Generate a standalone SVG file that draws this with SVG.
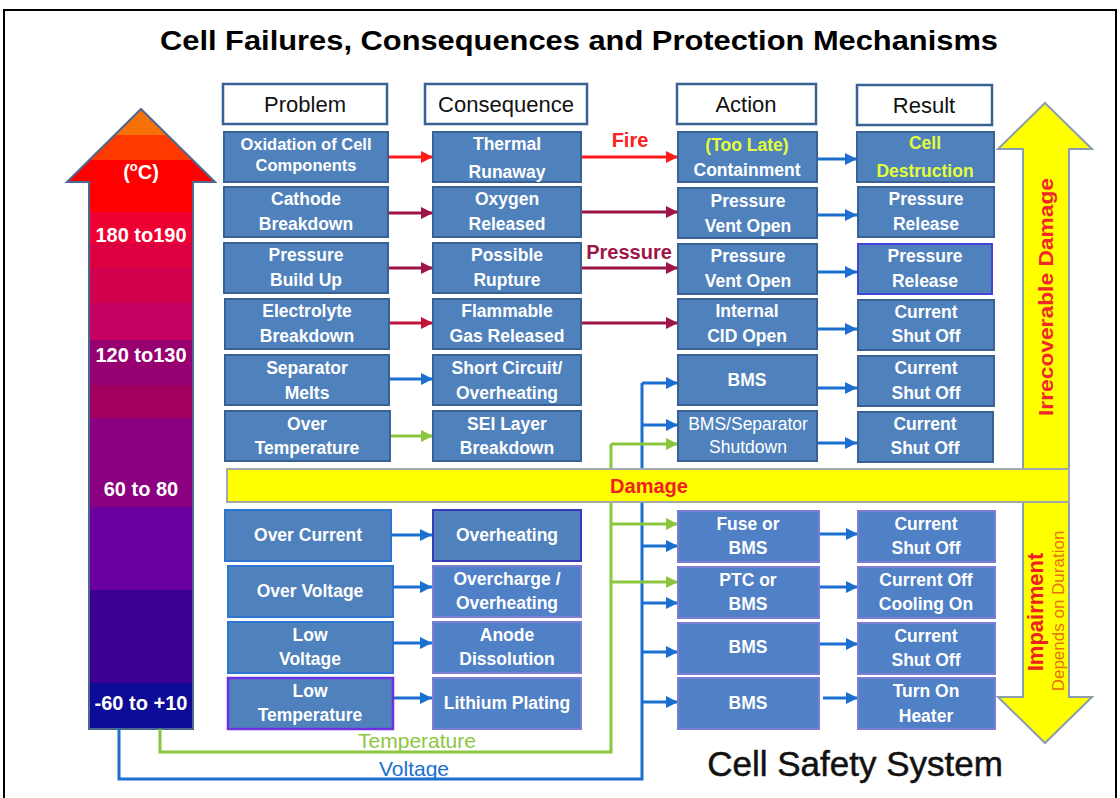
<svg xmlns="http://www.w3.org/2000/svg" width="1120" height="798" viewBox="0 0 1120 798">
<style>
text{font-family:"Liberation Sans",Arial,sans-serif}
.box{fill:#4F81BD;stroke:#3A6193;stroke-width:2}
.boxL{fill:#5080C6;stroke:#7C7ED2;stroke-width:2}
.hdr{fill:#fff;stroke:#3A6193;stroke-width:2.5}
.ht{font-size:22px;fill:#111;text-anchor:middle}
.t{font-size:17.5px;font-weight:bold;fill:#fff;text-anchor:middle}
.tr{font-size:17.5px;fill:#fff;text-anchor:middle}
.y{fill:#E4FF3A}
.c{fill:none;stroke-width:3}
.red{stroke:#FF1A1A}
.mar{stroke:#9E1447}
.crim{stroke:#C0143C}
.blu{stroke:#1A6FD0}
.grn{stroke:#8CC63F}
.lt{font-size:20px;fill:#fff;font-weight:bold;text-anchor:middle}
</style>
<defs>
<linearGradient id="temp" gradientUnits="userSpaceOnUse" x1="0" y1="109" x2="0" y2="729">
<stop offset="0" stop-color="#F87008"/><stop offset="0.042" stop-color="#F87008"/>
<stop offset="0.042" stop-color="#FF3A00"/><stop offset="0.082" stop-color="#FF3A00"/>
<stop offset="0.082" stop-color="#FF0000"/><stop offset="0.166" stop-color="#FF0000"/>
<stop offset="0.166" stop-color="#EE0033"/><stop offset="0.216" stop-color="#EE0033"/>
<stop offset="0.216" stop-color="#DC0040"/><stop offset="0.256" stop-color="#DC0040"/>
<stop offset="0.256" stop-color="#D0004C"/><stop offset="0.313" stop-color="#D0004C"/>
<stop offset="0.313" stop-color="#C40062"/><stop offset="0.373" stop-color="#C40062"/>
<stop offset="0.373" stop-color="#960070"/><stop offset="0.445" stop-color="#960070"/>
<stop offset="0.445" stop-color="#A20060"/><stop offset="0.498" stop-color="#A20060"/>
<stop offset="0.498" stop-color="#8A0080"/><stop offset="0.642" stop-color="#8A0080"/>
<stop offset="0.642" stop-color="#6A00A0"/><stop offset="0.776" stop-color="#6A00A0"/>
<stop offset="0.776" stop-color="#3A0090"/><stop offset="0.926" stop-color="#3A0090"/>
<stop offset="0.926" stop-color="#0C0C96"/><stop offset="1" stop-color="#0C0C96"/>
</linearGradient>
<marker id="aRed" viewBox="0 0 12 12" refX="12" refY="6" markerWidth="12" markerHeight="12" markerUnits="userSpaceOnUse" orient="auto"><path d="M0,0 L12,6 L0,12 z" fill="#FF1A1A"/></marker>
<marker id="aMar" viewBox="0 0 12 12" refX="12" refY="6" markerWidth="12" markerHeight="12" markerUnits="userSpaceOnUse" orient="auto"><path d="M0,0 L12,6 L0,12 z" fill="#9E1447"/></marker>
<marker id="aCrim" viewBox="0 0 12 12" refX="12" refY="6" markerWidth="12" markerHeight="12" markerUnits="userSpaceOnUse" orient="auto"><path d="M0,0 L12,6 L0,12 z" fill="#C0143C"/></marker>
<marker id="aBlu" viewBox="0 0 12 12" refX="12" refY="6" markerWidth="12" markerHeight="12" markerUnits="userSpaceOnUse" orient="auto"><path d="M0,0 L12,6 L0,12 z" fill="#1A6FD0"/></marker>
<marker id="aGrn" viewBox="0 0 12 12" refX="12" refY="6" markerWidth="12" markerHeight="12" markerUnits="userSpaceOnUse" orient="auto"><path d="M0,0 L12,6 L0,12 z" fill="#8CC63F"/></marker>
</defs>
<rect width="1120" height="798" fill="#fff"/>
<path d="M4,800 V10 H1116 V800" fill="none" stroke="#000" stroke-width="2"/>
<text x="579" y="50" font-size="27" font-weight="bold" text-anchor="middle" textLength="838" lengthAdjust="spacingAndGlyphs" fill="#000">Cell Failures, Consequences and Protection Mechanisms</text>

<!-- temperature arrow -->
<g id="temp-arrow">
<path d="M141,109 L215,182 L193,182 L193,729 L89,729 L89,182 L67,182 Z" fill="url(#temp)" stroke="#4A6890" stroke-width="2"/>
<text class="lt" x="141" y="179">(<tspan font-size="13" dy="-8">o</tspan><tspan dy="8">C)</tspan></text>
<text class="lt" x="141" y="242">180 to190</text>
<text class="lt" x="141" y="362">120 to130</text>
<text class="lt" x="141" y="496">60 to 80</text>
<text class="lt" x="141" y="710">-60 to +10</text>
</g>

<!-- connectors -->
<g id="connectors">
<path class="c red" d="M389,157 H433" marker-end="url(#aRed)"/>
<path class="c red" d="M581,157 H678" marker-end="url(#aRed)"/>
<path class="c mar" d="M389,213 H433" marker-end="url(#aMar)"/>
<path class="c mar" d="M581,212 H678" marker-end="url(#aMar)"/>
<path class="c mar" d="M389,268 H433" marker-end="url(#aMar)"/>
<path class="c mar" d="M581,268 H678" marker-end="url(#aMar)"/>
<path class="c crim" d="M389,323 H433" marker-end="url(#aCrim)"/>
<path class="c mar" d="M581,323 H678" marker-end="url(#aMar)"/>
<path class="c blu" d="M389,379 H433" marker-end="url(#aBlu)"/>
<path class="c grn" d="M390,436 H433" marker-end="url(#aGrn)"/>
<path class="c blu" d="M391,535 H432" marker-end="url(#aBlu)"/>
<path class="c blu" d="M393,587 H432" marker-end="url(#aBlu)"/>
<path class="c blu" d="M393,643 H432" marker-end="url(#aBlu)"/>
<path class="c blu" d="M393,698 H432" marker-end="url(#aBlu)"/>
<path class="c blu" d="M817,159 H857" marker-end="url(#aBlu)"/>
<path class="c blu" d="M817,215 H857" marker-end="url(#aBlu)"/>
<path class="c blu" d="M817,272 H857" marker-end="url(#aBlu)"/>
<path class="c blu" d="M817,329 H857" marker-end="url(#aBlu)"/>
<path class="c blu" d="M817,388 H857" marker-end="url(#aBlu)"/>
<path class="c blu" d="M817,443 H857" marker-end="url(#aBlu)"/>
<path class="c blu" d="M819,534 H858" marker-end="url(#aBlu)"/>
<path class="c blu" d="M819,587 H858" marker-end="url(#aBlu)"/>
<path class="c blu" d="M819,644 H858" marker-end="url(#aBlu)"/>
<path class="c blu" d="M823,698 H858" marker-end="url(#aBlu)"/>
<path class="c blu" d="M119,729 V779 H642 V383"/>
<path class="c grn" d="M160,729 V752 H611 V444"/>
<path class="c blu" d="M642,383 H678" marker-end="url(#aBlu)"/>
<path class="c blu" d="M642,425 H678" marker-end="url(#aBlu)"/>
<path class="c blu" d="M642,546 H678" marker-end="url(#aBlu)"/>
<path class="c blu" d="M642,603 H678" marker-end="url(#aBlu)"/>
<path class="c blu" d="M642,652 H678" marker-end="url(#aBlu)"/>
<path class="c blu" d="M642,702 H678" marker-end="url(#aBlu)"/>
<path class="c grn" d="M611,444 H678" marker-end="url(#aGrn)"/>
<path class="c grn" d="M611,524 H678" marker-end="url(#aGrn)"/>
<path class="c grn" d="M611,582 H678" marker-end="url(#aGrn)"/>
<text x="630" y="147" font-size="20" font-weight="bold" fill="#FF2020" text-anchor="middle">Fire</text>
<text x="629" y="259" font-size="20" font-weight="bold" fill="#9E1447" text-anchor="middle">Pressure</text>
<text x="417" y="748" font-size="21" fill="#8CC63F" text-anchor="middle">Temperature</text>
<text x="414" y="776" font-size="21" fill="#1A6FD0" text-anchor="middle">Voltage</text>
</g>

<!-- damage bar and yellow arrows -->
<g id="damage">
<path d="M1045,103 L1092,149 L1069,149 L1069,469 L1023,469 L1023,149 L998,149 Z" fill="#FFFF00" stroke="#8C9CB0" stroke-width="2"/>
<path d="M1023,502 L1069,502 L1069,697 L1092,697 L1045,743 L998,697 L1023,697 Z" fill="#FFFF00" stroke="#8C9CB0" stroke-width="2"/>
<rect x="227" y="469" width="842" height="33" fill="#FFFF00" stroke="#A0A8B0" stroke-width="2"/>
<text x="649" y="493" font-size="20" font-weight="bold" fill="#F02020" text-anchor="middle">Damage</text>
<text transform="translate(1053,297) rotate(-90)" font-size="21" font-weight="bold" fill="#F02828" text-anchor="middle" textLength="238" lengthAdjust="spacingAndGlyphs">Irrecoverable Damage</text>
<text transform="translate(1043,612) rotate(-90)" font-size="22" font-weight="bold" fill="#F02020" text-anchor="middle">Impairment</text>
<text transform="translate(1064,611) rotate(-90)" font-size="17" fill="#E87010" text-anchor="middle">Depends on Duration</text>
</g>

<!-- headers -->
<g id="h-problem"><rect class="hdr" x="223" y="84" width="164" height="40"/><text class="ht" x="305" y="112">Problem</text></g>
<g id="h-consequence"><rect class="hdr" x="425" y="84" width="162" height="40"/><text class="ht" x="506" y="112">Consequence</text></g>
<g id="h-action"><rect class="hdr" x="677" y="84" width="139" height="40"/><text class="ht" x="746" y="112">Action</text></g>
<g id="h-result"><rect class="hdr" x="857" y="85" width="135" height="40"/><text class="ht" x="924" y="113">Result</text></g>

<!-- row 1 -->
<g id="p1"><rect class="box" x="224" y="132" width="164" height="50"/><text class="t" x="306" y="150" style="font-size:16.5px">Oxidation of Cell</text><text class="t" x="306" y="171" style="font-size:16.5px">Components</text></g>
<g id="c1"><rect class="box" x="433" y="132" width="148" height="50"/><text class="t" x="507" y="150">Thermal</text><text class="t" x="507" y="178">Runaway</text></g>
<g id="a1"><rect class="box" x="678" y="132" width="139" height="50"/><text class="t y" x="747" y="151">(Too Late)</text><text class="t" x="747" y="176">Containment</text></g>
<g id="r1"><rect class="box" x="857" y="132" width="137" height="50"/><text class="t y" x="925" y="149">Cell</text><text class="t y" x="925" y="177">Destruction</text></g>
<!-- row 2 -->
<g id="p2"><rect class="box" x="224" y="187" width="164" height="50"/><text class="t" x="306" y="205">Cathode</text><text class="t" x="306" y="230">Breakdown</text></g>
<g id="c2"><rect class="box" x="433" y="187" width="148" height="50"/><text class="t" x="507" y="205">Oxygen</text><text class="t" x="507" y="230">Released</text></g>
<g id="a2"><rect class="box" x="678" y="188" width="139" height="50"/><text class="t" x="748" y="207">Pressure</text><text class="t" x="748" y="232">Vent Open</text></g>
<g id="r2"><rect class="box" x="858" y="187" width="136" height="50"/><text class="t" x="926" y="205">Pressure</text><text class="t" x="926" y="230">Release</text></g>
<!-- row 3 -->
<g id="p3"><rect class="box" x="224" y="243" width="164" height="50"/><text class="t" x="306" y="261">Pressure</text><text class="t" x="306" y="286">Build Up</text></g>
<g id="c3"><rect class="box" x="433" y="243" width="148" height="50"/><text class="t" x="507" y="261">Possible</text><text class="t" x="507" y="286">Rupture</text></g>
<g id="a3"><rect class="box" x="678" y="244" width="139" height="50"/><text class="t" x="748" y="262">Pressure</text><text class="t" x="748" y="287">Vent Open</text></g>
<g id="r3"><rect class="box" x="858" y="244" width="134" height="50" style="stroke:#4444D8"/><text class="t" x="925" y="262">Pressure</text><text class="t" x="925" y="287">Release</text></g>
<!-- row 4 -->
<g id="p4"><rect class="box" x="225" y="299" width="164" height="50"/><text class="t" x="307" y="317">Electrolyte</text><text class="t" x="307" y="342">Breakdown</text></g>
<g id="c4"><rect class="box" x="433" y="299" width="148" height="50"/><text class="t" x="507" y="317">Flammable</text><text class="t" x="507" y="342">Gas Released</text></g>
<g id="a4"><rect class="box" x="678" y="299" width="139" height="50"/><text class="t" x="747" y="317">Internal</text><text class="t" x="747" y="342">CID Open</text></g>
<g id="r4"><rect class="box" x="858" y="300" width="136" height="50"/><text class="t" x="926" y="318">Current</text><text class="t" x="926" y="342">Shut Off</text></g>
<!-- row 5 -->
<g id="p5"><rect class="box" x="225" y="355" width="164" height="50"/><text class="t" x="307" y="374">Separator</text><text class="t" x="307" y="399">Melts</text></g>
<g id="c5"><rect class="box" x="433" y="355" width="148" height="50"/><text class="t" x="507" y="374">Short Circuit/</text><text class="t" x="507" y="399">Overheating</text></g>
<g id="a5"><rect class="box" x="678" y="355" width="139" height="50"/><text class="t" x="747" y="386">BMS</text></g>
<g id="r5"><rect class="box" x="858" y="356" width="136" height="50"/><text class="t" x="926" y="374">Current</text><text class="t" x="926" y="399">Shut Off</text></g>
<!-- row 6 -->
<g id="p6"><rect class="box" x="225" y="411" width="165" height="50"/><text class="t" x="307" y="430">Over</text><text class="t" x="307" y="454">Temperature</text></g>
<g id="c6"><rect class="box" x="433" y="411" width="148" height="50"/><text class="t" x="507" y="430">SEI  Layer</text><text class="t" x="507" y="454">Breakdown</text></g>
<g id="a6"><rect class="box" x="678" y="411" width="139" height="50"/><text class="tr" x="748" y="430">BMS/Separator</text><text class="tr" x="748" y="453">Shutdown</text></g>
<g id="r6"><rect class="box" x="858" y="412" width="135" height="50"/><text class="t" x="925" y="430">Current</text><text class="t" x="925" y="454">Shut Off</text></g>

<!-- row 7 -->
<g id="p7"><rect class="box" x="225" y="510" width="166" height="51" style="stroke:#2E75D0"/><text class="t" x="308" y="541">Over Current</text></g>
<g id="c7"><rect class="box" x="433" y="510" width="148" height="51" style="stroke:#3A3AB8"/><text class="t" x="507" y="541">Overheating</text></g>
<g id="a7"><rect class="boxL" x="678" y="511" width="141" height="51"/><text class="t" x="748" y="530">Fuse or</text><text class="t" x="748" y="554">BMS</text></g>
<g id="r7"><rect class="boxL" x="858" y="511" width="137" height="51"/><text class="t" x="926" y="530">Current</text><text class="t" x="926" y="554">Shut Off</text></g>
<!-- row 8 -->
<g id="p8"><rect class="box" x="228" y="566" width="165" height="51" style="stroke:#2E75D0"/><text class="t" x="310" y="597">Over Voltage</text></g>
<g id="c8"><rect class="boxL" x="433" y="566" width="148" height="51"/><text class="t" x="507" y="585">Overcharge /</text><text class="t" x="507" y="609">Overheating</text></g>
<g id="a8"><rect class="boxL" x="678" y="567" width="141" height="51"/><text class="t" x="748" y="586">PTC or</text><text class="t" x="748" y="610">BMS</text></g>
<g id="r8"><rect class="boxL" x="858" y="567" width="137" height="51"/><text class="t" x="926" y="586">Current Off</text><text class="t" x="926" y="610">Cooling On</text></g>
<!-- row 9 -->
<g id="p9"><rect class="box" x="228" y="622" width="165" height="51" style="stroke:#2E75D0"/><text class="t" x="310" y="641">Low</text><text class="t" x="310" y="665">Voltage</text></g>
<g id="c9"><rect class="boxL" x="433" y="622" width="148" height="51"/><text class="t" x="507" y="641">Anode</text><text class="t" x="507" y="665">Dissolution</text></g>
<g id="a9"><rect class="boxL" x="678" y="623" width="141" height="51"/><text class="t" x="748" y="653">BMS</text></g>
<g id="r9"><rect class="boxL" x="858" y="623" width="137" height="51"/><text class="t" x="926" y="642">Current</text><text class="t" x="926" y="666">Shut Off</text></g>
<!-- row 10 -->
<g id="p10"><rect class="box" x="228" y="678" width="165" height="51" style="stroke:#7030E0;stroke-width:2.5"/><text class="t" x="310" y="697">Low</text><text class="t" x="310" y="721">Temperature</text></g>
<g id="c10"><rect class="boxL" x="433" y="678" width="148" height="51"/><text class="t" x="507" y="709">Lithium Plating</text></g>
<g id="a10"><rect class="boxL" x="678" y="678" width="141" height="51"/><text class="t" x="748" y="709">BMS</text></g>
<g id="r10"><rect class="boxL" x="858" y="678" width="137" height="51"/><text class="t" x="926" y="697">Turn On</text><text class="t" x="926" y="722">Heater</text></g>

<text x="855" y="776" font-size="35" fill="#111" stroke="#111" stroke-width="0.5" text-anchor="middle">Cell Safety System</text>
</svg>
